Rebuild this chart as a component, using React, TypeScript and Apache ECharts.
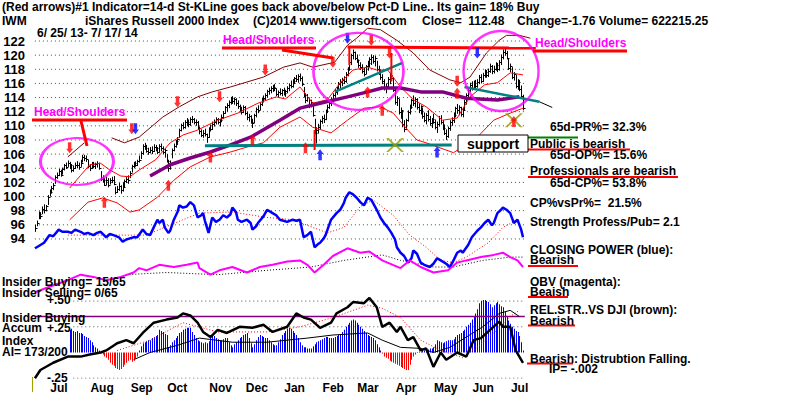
import React, { useEffect, useRef } from "react";
import * as echarts from "echarts";

const FONT = "'Liberation Sans', Arial, sans-serif";

// ---------- price bars per month: [low, high, close] ----------
const monthNames = ["Jun", "Jul", "Aug", "Sep", "Oct", "Nov", "Dec", "Jan", "Feb", "Mar", "Apr", "May", "Jun", "Jul"];
const jun13 = [[95.0,96.0,95.6],[95.8,96.6,96.3],[96.8,97.9,97.6],[96.8,97.8,97.3]];
const jul13 = [
[97.5,98.6,98.3],[97.6,98.9,98.1],[97.9,98.8,98.6],[98.8,100.2,100.0],[100.0,101.0,100.6],
[100.4,101.5,101.2],[100.9,101.9,101.6],[101.8,103.0,102.8],[102.5,103.4,103.1],[102.9,103.9,103.6],
[102.8,103.8,103.1],[103.1,104.1,103.9],[103.7,104.6,104.4],[103.9,104.8,104.2],[104.2,105.1,104.8],
[103.9,104.9,104.4],[103.4,104.6,103.7],[103.5,104.4,104.0],[103.9,104.8,104.4],[104.0,105.0,104.5],
[103.8,104.8,104.2],[104.2,105.2,104.8]];
const aug13 = [
[104.8,105.9,105.6],[105.0,105.9,105.4],[104.9,105.8,105.3],[104.0,105.2,104.3],[103.6,104.6,104.0],
[103.9,104.9,104.6],[104.0,104.9,104.3],[103.9,104.8,104.6],[104.1,105.0,104.7],[103.8,104.8,104.0],
[102.2,103.6,102.5],[102.0,103.0,102.3],[101.5,102.6,101.7],[101.6,102.8,102.4],[101.3,102.6,101.6],
[101.7,102.6,102.3],[101.9,102.8,102.4],[101.6,102.9,101.8],[100.3,101.4,100.6],[100.5,101.5,101.1],
[100.8,101.9,101.5],[100.4,101.6,100.9]];
const sep13 = [
[100.7,102.0,101.3],[101.2,102.4,102.2],[101.9,102.8,102.5],[101.8,103.0,102.4],[102.6,103.6,103.4],
[103.4,104.5,104.3],[104.0,104.9,104.7],[104.2,105.0,104.5],[104.3,105.2,105.0],[104.8,105.8,105.2],
[105.3,106.4,106.2],[105.9,107.4,107.2],[106.6,107.6,106.9],[106.2,107.3,106.5],[105.9,106.9,106.3],
[106.1,107.0,106.6],[106.0,107.1,106.4],[106.3,107.4,107.0],[106.4,107.3,106.8],[106.0,107.0,106.3]];
const oct13 = [
[106.2,107.4,107.2],[106.4,107.5,106.9],[106.0,107.1,106.3],[105.5,106.8,106.6],[104.8,106.0,105.0],
[103.5,105.2,104.0],[103.8,105.1,104.8],[105.4,106.8,106.6],[106.4,107.5,107.2],[106.9,108.0,107.8],
[107.3,108.4,108.2],[108.3,109.6,109.4],[109.2,110.3,110.1],[109.5,110.5,109.9],[109.6,110.8,110.6],
[110.0,111.1,110.6],[109.8,110.9,110.3],[110.0,111.2,110.9],[110.4,111.4,111.0],[110.2,111.1,110.5],
[110.0,110.9,110.6],[109.4,110.7,109.7],[108.8,109.9,109.2]];
const nov13 = [
[108.4,109.5,108.7],[108.3,109.4,109.0],[108.5,109.6,108.9],[107.6,108.9,108.4],[108.3,109.8,109.6],
[109.2,110.2,109.5],[109.4,110.6,110.3],[109.9,110.9,110.5],[110.2,111.2,110.9],[110.2,111.1,110.5],
[109.9,111.0,110.8],[110.5,111.6,111.3],[111.0,112.1,111.8],[111.7,112.8,112.6],[112.0,113.2,112.9],
[112.5,113.6,113.4],[113.0,114.1,113.9],[113.1,114.2,113.5],[113.0,114.0,113.8],[112.8,113.9,113.2]];
const dec13 = [
[112.4,113.6,112.8],[111.9,113.0,112.3],[111.6,112.7,112.0],[111.8,112.9,112.6],[111.5,112.8,111.8],
[110.8,112.0,111.2],[110.6,111.7,111.4],[110.3,111.5,110.6],[109.7,111.0,110.4],[110.4,111.7,111.5],
[111.2,112.6,112.4],[111.8,112.9,112.3],[112.2,113.3,113.1],[112.8,114.0,113.8],[113.3,114.3,113.9],
[113.6,114.6,114.4],[114.0,115.1,114.9],[114.4,115.4,115.1],[114.6,115.6,115.3],[114.8,115.8,115.5],
[114.9,115.9,115.3]];
const jan14 = [
[114.2,115.3,114.5],[114.0,115.0,114.8],[114.3,115.3,114.6],[114.2,115.2,115.0],[114.3,115.4,114.7],
[114.1,115.1,114.9],[114.6,115.6,115.3],[114.9,116.0,115.8],[115.3,116.4,115.6],[115.4,116.6,116.3],
[115.9,116.9,116.7],[116.2,117.2,116.6],[116.1,117.3,117.0],[116.3,117.4,116.7],[115.6,117.0,115.9],
[114.0,115.5,114.3],[113.2,114.6,113.6],[113.4,114.5,114.1],[112.5,113.9,112.8],[112.6,113.7,113.4],
[111.3,112.9,111.6]];
const feb14 = [
[108.8,111.0,109.0],[107.5,109.8,109.4],[108.9,110.3,109.8],[109.5,110.9,110.7],[110.3,111.4,111.1],
[110.4,111.6,110.9],[110.8,112.3,112.1],[111.8,113.0,112.7],[112.4,113.5,113.2],[112.8,114.0,113.7],
[113.3,114.6,114.3],[114.0,115.2,114.8],[114.4,115.5,115.2],[115.0,116.2,115.9],[115.3,116.6,116.2],
[115.6,116.8,116.5],[115.9,117.0,116.4],[116.1,117.6,117.3],[117.0,118.3,118.1]];
const mar14 = [
[117.8,119.3,119.0],[118.6,120.2,120.0],[119.4,120.8,120.4],[119.3,120.5,119.6],[118.9,120.1,119.3],
[118.2,119.4,118.6],[117.9,119.0,118.3],[117.4,118.7,117.7],[117.0,118.2,117.4],[117.3,118.6,118.4],
[117.8,119.2,118.9],[118.3,119.7,119.5],[118.6,120.1,119.8],[118.8,120.0,119.2],[118.4,119.9,119.6],
[117.7,119.2,118.0],[117.2,118.5,117.6],[116.5,118.0,116.9],[115.9,117.3,116.3],[115.0,116.6,115.3],
[114.6,116.0,115.6]];
const apr14 = [
[115.2,116.9,116.6],[115.9,117.5,117.2],[116.3,117.6,116.8],[114.8,116.9,115.1],[113.0,115.2,113.4],
[112.8,114.2,113.9],[111.6,113.8,111.9],[111.0,112.6,112.3],[109.8,112.1,110.2],[109.1,110.8,109.6],
[109.4,111.0,110.8],[110.6,112.2,112.0],[111.6,113.0,112.7],[112.4,113.8,113.6],[112.8,114.3,113.3],
[112.6,114.0,113.8],[112.3,113.9,112.6],[111.8,113.2,112.2],[111.6,112.9,112.8],[111.0,112.6,111.4],
[110.5,111.9,110.8]];
const may14 = [
[110.2,111.8,111.5],[110.6,112.2,111.0],[110.0,111.4,110.4],[109.7,111.1,110.9],[110.3,111.7,110.6],
[109.5,110.9,109.8],[109.0,110.6,110.3],[109.9,111.4,111.1],[110.2,111.5,110.5],[109.4,110.8,109.7],
[108.7,110.2,109.0],[108.0,109.5,108.6],[108.3,109.9,109.7],[109.3,110.8,110.5],[110.0,111.2,110.8],
[110.4,111.9,111.6],[111.2,112.7,112.5],[111.7,113.1,112.3],[111.5,112.9,112.6],[111.3,112.7,111.7],
[111.2,112.5,112.2]];
const jun14 = [
[112.2,113.7,113.4],[113.0,114.6,114.3],[114.0,115.3,115.0],[114.8,116.1,115.8],[115.0,116.3,115.4],
[115.2,116.4,116.0],[115.1,116.5,115.6],[115.4,116.6,116.2],[115.9,117.2,116.9],[116.0,117.3,116.4],
[116.2,117.5,117.2],[116.8,118.0,117.6],[116.8,117.9,117.2],[116.9,118.1,117.8],[117.5,118.8,118.4],
[117.3,118.6,117.7],[117.4,118.5,118.1],[117.8,119.0,118.6],[117.6,118.9,118.0],[117.8,119.3,119.0],
[118.6,120.1,119.7]];
const jul14 = [
[119.4,120.8,120.5],[119.9,121.0,120.3],[119.4,120.6,119.6],[117.9,119.6,118.2],[117.6,118.8,118.4],
[116.6,118.3,116.9],[116.4,117.6,117.3],[115.3,117.2,115.7],[115.1,116.6,116.2],[114.9,116.5,115.2],
[113.9,115.7,114.2],[112.2,114.4,112.5]];
const monthBars = [jun13, jul13, aug13, sep13, oct13, nov13, dec13, jan14, feb14, mar14, apr14, may14, jun14, jul14];
const PAD_DAYS = 16;

// ---------- price-panel overlays: [dayIndex, price] ----------
const upperBandA = [[18,105.6],[27,107.6]];
const upperBandB = [[42,108.3],[49,107.6],[57,108.4],[70,111.25],[79,112.7],[89,114.1],[97,114.8],[107,115.5],[116,116.2],[125,116.9],[136,118.3],[145,118.9],[152,118.3],[164,119.0],[171,121.4],[176,122.4],[182,123.8],[189,123.6],[198,122.1],[207,120.3],[216,117.9],[227,116.5],[233,116.1],[238,116.9],[247,120.3],[254,122.1],[258,122.8],[265,122.8],[271,122.4]];
const middleBand = [[19,101.2],[25,103.0],[30,104.5],[36,104.7],[41,103.75],[47,102.9],[52,102.8],[57,103.75],[66,105.2],[74,107.6],[81,108.7],[89,109.4],[100,110.8],[111,111.8],[122,113.2],[132,114.1],[137,113.8],[145,115.5],[152,113.2],[160,113.7],[167,116.1],[174,117.9],[182,118.3],[187,117.9],[193,117.9],[200,115.5],[207,113.7],[214,112.7],[223,110.8],[231,111.1],[238,114.1],[246,115.8],[253,116.1],[260,117.5],[267,117.2]];
const lowerBand = [[19,96.7],[29,99.2],[37,99.8],[45,99.1],[52,97.8],[57,98.1],[67,99.9],[76,102.3],[85,104.2],[96,105.6],[107,106.3],[116,107.0],[125,107.6],[134,109.8],[145,111.25],[152,109.8],[162,109.0],[171,110.8],[180,112.5],[189,112.7],[196,111.8],[204,109.4],[209,108.0],[214,107.6],[229,106.2],[242,108.4],[251,110.8],[260,111.8],[267,112.5]];
const purpleMA = [[63,102.9],[74,104.5],[85,105.45],[96,106.3],[107,107.3],[118,108.4],[134,110.8],[145,112.5],[156,113.2],[171,114.1],[182,114.8],[190,115.35],[200,115.35],[211,114.8],[223,114.8],[236,113.9],[253,113.65],[265,114.1]];
const supportLine = [[93,107.2],[228,107.3]];
const risingTrend = [[164,114.8],[201,118.9]];
const fallingTrend = [[235,115.5],[276,113.4]];
const fallingTrendExt = [[276,113.4],[283,112.6]];
const neckTop = [[171,121.15],[274,121.0]];
const redTicks = [[[172,121.0],[172,118.6]], [[195,120.3],[195,116.3]], [[153,109.4],[153,106.6]]];

const redDownArrows = [[19,106.9],[53,109.6],[78,113.4],[101,114.1],[126,117.9],[163,119.0],[184,122.1],[194,120.3],[231,116.3]];
const redUpArrows = [[38,99.2],[73,101.6],[96,105.6],[119,108.0],[148,106.9],[182,114.8],[190,112.2],[231,114.6],[262,110.6]];
const blueDownArrows = [[55,109.6],[171,122.4],[242,120.3]];
const blueUpArrows = [[156,105.9],[220,106.3]];
const crossMarks = [[197,107.3],[262,110.8]];
const hsEllipses = [[23,104.96,73,47],[177,117.7,90,77],[255,117.76,75,80]];

// ---------- Closing power / OBV panel (0-100 scale) ----------
const cpLine = [[0,47],[1,48],[3,50],[5,52],[8,59],[10,58],[13,64],[15,62],[18,62],[20,61],[22,64],[25,62],[27,60],[29,61],[32,59],[34,61],[36,62],[39,57],[41,60],[43,59],[46,57],[48,53],[50,55],[52,56],[54,57],[56,57],[59,64],[61,60],[63,59],[65,66],[67,73],[68,70],[70,73],[71,66],[73,61],[74,63],[76,73],[78,80],[79,86],[81,84],[83,85],[85,89],[87,86],[89,75],[91,77],[92,79],[93,72],[95,61],[97,75],[99,71],[101,73],[103,77],[105,75],[107,78],[108,84],[110,80],[111,73],[113,71],[116,73],[118,70],[119,64],[121,67],[122,70],[125,76],[127,82],[130,79],[132,77],[134,73],[136,72],[138,71],[141,73],[143,72],[145,73],[147,57],[149,59],[151,62],[153,48],[155,51],[156,52],[158,56],[159,59],[162,73],[165,79],[167,82],[169,88],[170,93],[172,98],[174,96],[176,93],[178,89],[180,86],[182,93],[184,91],[185,88],[187,82],[189,75],[191,70],[193,66],[195,61],[197,55],[198,48],[200,43],[202,40],[204,34],[206,38],[207,45],[209,42],[211,34],[213,32],[216,30],[218,33],[220,38],[222,36],[225,33],[227,30],[229,36],[231,43],[233,45],[234,43],[237,50],[239,57],[242,63],[244,66],[246,70],[248,73],[250,68],[251,70],[253,79],[255,82],[256,84],[258,82],[260,79],[262,70],[264,73],[266,64],[267,57]];
const cpAverage = [[18,59],[61,59],[68,64],[81,73],[90,79],[108,80],[127,75],[141,73],[152,66],[160,61],[169,66],[178,85],[185,91],[196,77],[205,59],[214,48],[222,36],[229,34],[236,39],[248,52],[256,66],[264,73]];
const obvLine = [[0,7],[8,12],[18,18],[25,23],[32,21],[39,18],[47,21],[54,25],[57,29],[61,27],[68,32],[76,30],[83,32],[89,34],[90,29],[96,23],[101,27],[108,30],[116,25],[123,30],[130,32],[138,35],[145,36],[149,32],[153,25],[158,32],[163,40],[171,47],[178,43],[183,44],[190,36],[200,29],[205,36],[211,30],[218,25],[226,27],[231,34],[236,36],[244,39],[251,41],[256,43],[260,39],[264,36],[267,30]];
const obvAverage = [[50,23],[72,25],[100,23],[127,27],[151,30],[169,36],[190,41],[200,36],[218,30],[229,30],[245,36],[260,39],[267,39]];

// ---------- Accumulation index panel ----------
const accumStart = 19;
const accumValues = [
0.22,0.23,0.21,0.2,0.21,0.19,0.19,
0.18,0.16,0.15,0.14,0.12,0.1,0.07,
0.05,0.04,0.02,0.0,-0.02,-0.04,
-0.05,-0.07,-0.1,-0.12,-0.13,-0.15,-0.16,-0.17,-0.16,
-0.14,-0.12,-0.1,-0.08,-0.07,-0.09,-0.08,-0.06,-0.04,
0.02,0.06,0.09,0.1,0.11,0.12,0.12,0.14,0.15,0.16,0.17,
0.22,0.21,0.2,0.18,0.17,0.05,0.07,0.1,
0.12,0.14,0.16,0.19,0.2,0.22,0.23,0.24,0.24,0.24,
0.2,0.17,0.14,0.12,0.11,0.1,0.09,0.1,0.09,0.11,
0.14,0.17,0.16,0.14,0.13,0.12,0.12,0.13,0.14,0.14,
0.1,0.07,0.05,0.08,0.1,0.12,0.14,0.15,0.17,0.18,
0.19,0.14,0.09,0.05,0.08,0.12,0.15,0.17,0.16,0.15,
0.14,0.14,0.12,0.1,0.08,0.07,0.07,0.1,0.13,0.17,
0.19,0.21,0.23,0.24,0.23,0.21,0.19,0.17,0.14,0.1,
0.07,0.05,0.05,0.04,0.04,0.04,0.06,0.08,0.1,0.11,
0.12,0.13,0.14,0.15,0.15,0.14,0.14,0.14,0.15,0.16,
0.17,0.18,0.2,0.22,0.25,0.27,0.29,0.31,0.32,0.31,
0.29,0.27,0.25,0.23,0.21,0.19,0.17,0.16,0.15,0.14,
0.12,0.08,0.05,0.02,-0.01,-0.04,-0.05,-0.06,-0.08,-0.09,
-0.1,-0.11,-0.12,-0.13,-0.14,-0.15,-0.16,-0.17,-0.17,-0.12,
-0.07,-0.04,-0.02,0.0,0.01,0.01,0.02,0.02,0.02,0.03,
0.04,0.04,0.05,0.08,0.12,0.11,0.1,0.09,0.1,0.11,
0.12,0.12,0.12,0.13,0.15,0.17,0.18,0.19,0.21,0.22,
0.25,0.27,0.29,0.32,0.35,0.38,0.42,0.48,0.5,0.51,
0.51,0.5,0.49,0.47,0.44,0.46,0.48,0.49,0.47,0.45,
0.44,0.4,0.35,0.31,0.28,0.25,0.23,0.21,0.2,0.16,0.1,0.02];
const relStrength = [[0,-0.25],[3,-0.17],[10,-0.1],[18,-0.04],[25,-0.04],[30,-0.02],[36,0.0],[39,0.02],[45,0.09],[50,0.12],[54,0.09],[59,0.19],[65,0.29],[72,0.32],[78,0.34],[81,0.38],[85,0.36],[89,0.29],[92,0.2],[96,0.15],[100,0.22],[105,0.19],[112,0.25],[119,0.24],[125,0.27],[130,0.2],[138,0.25],[143,0.38],[147,0.34],[151,0.32],[156,0.24],[162,0.29],[165,0.38],[171,0.44],[174,0.49],[180,0.48],[183,0.53],[187,0.44],[190,0.25],[194,0.29],[198,0.2],[200,0.25],[204,0.12],[207,0.15],[211,0.02],[214,0.04],[218,-0.14],[222,0.0],[225,-0.07],[231,0.0],[236,-0.04],[240,0.12],[244,0.14],[249,0.22],[254,0.3],[256,0.25],[260,0.25],[263,0.02],[267,-0.1]];
const relStrengthAvg = [[54,-0.07],[63,0.0],[78,0.07],[90,0.14],[108,0.1],[127,0.1],[138,0.12],[149,0.14],[163,0.17],[182,0.19],[190,0.12],[200,0.05],[211,0.04],[218,0.0],[227,0.05],[236,0.15],[245,0.25],[254,0.38],[260,0.41],[265,0.35]];
const accumAvg = [[45,0.02],[63,0.12],[81,0.29],[100,0.2],[127,0.2],[145,0.25],[163,0.34],[182,0.46],[190,0.43],[200,0.34],[211,0.12],[222,0.02],[234,-0.05],[242,0.05],[251,0.19],[260,0.35],[265,0.41]];
const insiderLevel = 0.35;
const accumGridLevels = [0.5, 0.25, -0.25];

const priceTicks = [94,96,98,100,102,104,106,108,110,112,114,116,118,120,122];

const DOWN = "path://M2,0 L6,0 L6,7 L8,7 L4,12 L0,7 L2,7 Z";
const UP = "path://M4,0 L8,5 L6,5 L6,12 L2,12 L2,5 L0,5 Z";
const CROSS = "path://M0,0 L3,0 L10,6 L17,0 L20,0 L12,7 L20,14 L17,14 L10,8 L3,14 L0,14 L8,7 Z";

export default function App() {
  const ref = useRef<HTMLDivElement>(null);
  useEffect(() => {
    if (!ref.current) return;
    const chart = echarts.init(ref.current, null, { renderer: "svg" });

    const bars: number[][] = [];
    const cats: string[] = [];
    const monthStarts: number[] = [];
    monthBars.forEach((m, mi) => {
      m.forEach((b, k) => {
        if (k === 0 && mi > 0) monthStarts.push(cats.length);
        cats.push(monthNames[mi] + "-" + mi + "-" + k);
        bars.push([bars.length, b[0], b[1], b[2]]);
      });
    });
    for (let k = 0; k < PAD_DAYS; k++) cats.push("pad-" + k);
    const lastDay = bars.length - 1;

    const GL = 34, GW = cats.length * 1.828;
    const grids = [
      { left: GL, width: GW, top: 26.86, height: 226.24 },
      { left: GL, width: GW, top: 190, height: 110 },
      { left: GL, width: GW, top: 290.8, height: 87.4 },
    ];
    const xAxes = grids.map((g, gi) => ({
      type: "category", gridIndex: gi, data: cats, boundaryGap: true,
      axisLine: { show: false }, axisTick: { show: false }, splitLine: { show: false },
      axisLabel: gi === 2 ? {
        show: true, interval: (idx: number) => monthStarts.includes(idx),
        formatter: (v: string) => v.split("-")[0], align: "left", padding: [0, 0, 0, 8],
        color: "#000", fontFamily: FONT, fontWeight: "bold", fontSize: 12, margin: 4,
      } : { show: false },
    }));
    const yAxes = [
      { type: "value", gridIndex: 0, min: 92, max: 124, interval: 2,
        axisLine: { show: false }, axisTick: { show: false }, splitLine: { show: false },
        axisLabel: { color: "#000", fontFamily: FONT, fontWeight: "bold", fontSize: 13, margin: 9,
          formatter: (v: number) => (v < 94 || v > 122 ? "" : String(v)) } },
      { type: "value", gridIndex: 1, min: 0, max: 100, show: false },
      { type: "value", gridIndex: 2, min: -0.25, max: 0.6, show: false },
    ];

    const line = (data: any[], color: string, width: number, ax = 0, extra: any = {}) => ({
      type: "line", xAxisIndex: ax, yAxisIndex: ax, data, showSymbol: false, symbol: "none",
      silent: true, animation: false, connectNulls: false,
      lineStyle: { color, width, type: extra.type || "solid" }, z: extra.z ?? 4,
    });
    const scatter = (data: any[], symbol: string, color: string, size: any, z = 8) => ({
      type: "scatter", xAxisIndex: 0, yAxisIndex: 0, data, symbol, symbolSize: size,
      itemStyle: { color }, silent: true, z,
    });

    const series: any[] = [];
    priceTicks.forEach((v) => series.push(line([[0, v], [lastDay + 2, v]], "#008000", 1, 0, { type: [1, 3], z: 1 })));
    series.push({
      type: "custom", xAxisIndex: 0, yAxisIndex: 0, data: bars, encode: { x: 0, y: [1, 2, 3] }, z: 3, silent: true,
      renderItem: (params: any, api: any) => {
        const i = api.value(0);
        const lo = api.coord([i, api.value(1)]);
        const hi = api.coord([i, api.value(2)]);
        const cl = api.coord([i, api.value(3)]);
        const x = Math.round(lo[0]) + 0.5;
        return {
          type: "group",
          children: [
            { type: "line", shape: { x1: x, y1: lo[1], x2: x, y2: hi[1] }, style: { stroke: "#000", lineWidth: 1 } },
            { type: "line", shape: { x1: x, y1: Math.round(cl[1]) + 0.5, x2: x + 2, y2: Math.round(cl[1]) + 0.5 }, style: { stroke: "#000", lineWidth: 1 } },
          ],
        };
      },
    });
    series.push(line(upperBandA, "#800000", 1));
    series.push(line(upperBandB, "#800000", 1));
    series.push(line(middleBand, "#ff0000", 1));
    series.push(line(lowerBand, "#ff0000", 1));
    series.push(line(purpleMA, "#800080", 3.5, 0, { z: 5 }));
    series.push(line(supportLine, "#008080", 3, 0, { z: 5 }));
    series.push(line(risingTrend, "#008080", 2.5, 0, { z: 5 }));
    series.push(line(fallingTrend, "#008080", 2.5, 0, { z: 5 }));
    series.push(line(fallingTrendExt, "#000000", 1, 0, { z: 5 }));
    series.push(line(neckTop, "#ff0000", 3, 0, { z: 6 }));
    redTicks.forEach((seg) => series.push(line(seg, "#ff0000", 2, 0, { z: 6 })));
    series.push(scatter(redDownArrows, DOWN, "#ff0000", [7, 11]));
    series.push(scatter(redUpArrows, UP, "#ff0000", [7, 11]));
    series.push(scatter(blueDownArrows, DOWN, "#0000ff", [7, 11]));
    series.push(scatter(blueUpArrows, UP, "#0000ff", [7, 11]));
    series.push(scatter(crossMarks, CROSS, "#9a9a00", [18, 14], 7));
    series.push({
      type: "scatter", xAxisIndex: 0, yAxisIndex: 0, silent: true, z: 9,
      data: hsEllipses.map((e) => ({ value: [e[0], e[1]], symbolSize: [e[2], e[3]] })),
      symbol: "circle",
      itemStyle: { color: "rgba(0,0,0,0)", borderColor: "#ff00ff", borderWidth: 2.5 },
    });

    series.push(line(cpAverage, "#ff0000", 1, 1, { type: [1, 2] }));
    series.push(line(obvAverage, "#000000", 1, 1, { type: [1, 2] }));
    series.push(line(cpLine, "#0000ff", 2.5, 1, { z: 5 }));
    series.push(line(obvLine, "#ff00ff", 2, 1, { z: 5 }));

    // accumulation histogram, drawn as crisp 1px stripes
    series.push({
      type: "custom", xAxisIndex: 2, yAxisIndex: 2, silent: true, z: 2,
      data: accumValues.map((v, k) => [accumStart + k, v]),
      encode: { x: 0, y: 1 },
      renderItem: (params: any, api: any) => {
        const i = api.value(0);
        const v = api.value(1);
        const top = api.coord([i, v]);
        const base = api.coord([i, 0]);
        const x = Math.round(top[0]);
        const y1 = Math.min(top[1], base[1]);
        const h = Math.abs(base[1] - top[1]);
        return { type: "rect", shape: { x, y: y1, width: 1, height: Math.max(h, 0.5) },
          style: { fill: v >= 0 ? "#0000ff" : "#ff0000" } };
      },
    });
    accumGridLevels.forEach((lv) => series.push(line([[21, lv], [lastDay, lv]], "#555555", 1, 2, { type: [1, 3], z: 1 })));
    series.push(line([[0, insiderLevel], [lastDay + 1, insiderLevel]], "#800080", 1.5, 2, { z: 3 }));
    series.push(line(accumAvg, "#ff0000", 1, 2, { type: [1, 2] }));
    series.push(line(relStrengthAvg, "#000000", 1, 2));
    series.push(line(relStrength, "#000000", 2.5, 2, { z: 5 }));

    const T = (text: string, x: number, y: number, fill = "#000", size = 12, align = "left") => ({
      type: "text", x, y, z: 50,
      style: { text, fill, font: `bold ${size}px ${FONT}`, align, verticalAlign: "middle" },
    });
    const L = (x1: number, y1: number, x2: number, y2: number, stroke: string, w: number) => ({
      type: "line", z: 40, shape: { x1, y1, x2, y2 }, style: { stroke, lineWidth: w },
    });

    const graphic: any[] = [
      T("(Red arrows)#1 Indicator=14-d St-KLine goes back above/below Pct-D Line.. Its gain= 18% Buy", 2, 7),
      T("IWM", 2, 21),
      T("iShares Russell 2000 Index", 85, 21),
      T("(C)2014 www.tigersoft.com", 253, 21),
      T("Close=  112.48", 422, 21),
      T("Change=-1.76 Volume= 622215.25", 517, 21),
      T("6/ 25/ 13- 7/ 17/ 14", 37, 33),
      // head & shoulders notes
      T("Head/Shoulders", 34, 111.5, "#ff00ff"),
      L(32, 120, 127, 120, "#ff0000", 3),
      L(81, 121, 87, 146, "#ff0000", 3),
      T("Head/Shoulders", 223, 40, "#ff00ff"),
      L(222, 48, 316, 48, "#ff0000", 3),
      L(282, 50, 333, 58, "#ff0000", 3),
      T("Head/Shoulders", 535, 43, "#ff00ff"),
      L(533, 51, 627, 51, "#ff0000", 3),
      // support box
      { type: "rect", z: 45, shape: { x: 458, y: 135, width: 70, height: 17 }, style: { fill: "#fff", stroke: "#000", lineWidth: 1 } },
      T("support", 493, 144, "#000", 14, "center"),
      // right-hand notes
      T("65d-PR%= 32.3%", 550, 127),
      L(528, 137.5, 578, 137.5, "#008000", 2),
      T("Public is bearish", 530, 143.5),
      L(528, 149.5, 630, 149.5, "#ff0000", 2),
      T("65d-OP%= 15.6%", 550, 154.5),
      T("Professionals are bearish", 530, 171),
      L(528, 177, 678, 177, "#ff0000", 2),
      T("65d-CP%= 53.8%", 550, 182.5),
      T("CP%vsPr%=  21.5%", 530, 202.5),
      T("Strength Profess/Pub= 2.1", 530, 221.5),
      T("CLOSING POWER (blue):", 530, 249.5),
      T("Bearish", 530, 260),
      L(528, 266, 578, 266, "#ff0000", 2),
      T("OBV (magenta):", 530, 282),
      T("Beaish", 530, 292),
      L(528, 297, 568, 297, "#ff0000", 2),
      T("REL.STR..VS DJI (brown):", 530, 310),
      T("Bearish", 530, 321),
      L(528, 325.5, 575, 325.5, "#ff0000", 2),
      T("Bearish: Distrubtion Falling.", 530, 359),
      L(527, 363.5, 573, 363.5, "#ff0000", 2),
      T("IP= -.002", 549, 368.5),
      // left-hand notes
      T("Insider Buying= 15/65", 2, 281.5),
      T("Insider Selling= 0/65", 2, 292.5),
      T("+.50", 47, 300),
      T("Insider Buying", 2, 317.5),
      T("Accum", 2, 327.5),
      T("+.25", 47, 327.5),
      T("Index", 2, 340.5),
      T("AI= 173/200", 2, 351.5),
      T("-.25", 47, 378),
      L(32.5, 377, 32.5, 392, "#a0a000", 1),
    ];

    chart.setOption({
      animation: false,
      backgroundColor: "#ffffff",
      textStyle: { fontFamily: FONT },
      grid: grids,
      xAxis: xAxes,
      yAxis: yAxes,
      series,
      graphic,
    });
    return () => chart.dispose();
  }, []);
  return <div ref={ref} style={{ position: "fixed", left: 0, top: 0, width: 800, height: 395, background: "#fff" }} />;
}
